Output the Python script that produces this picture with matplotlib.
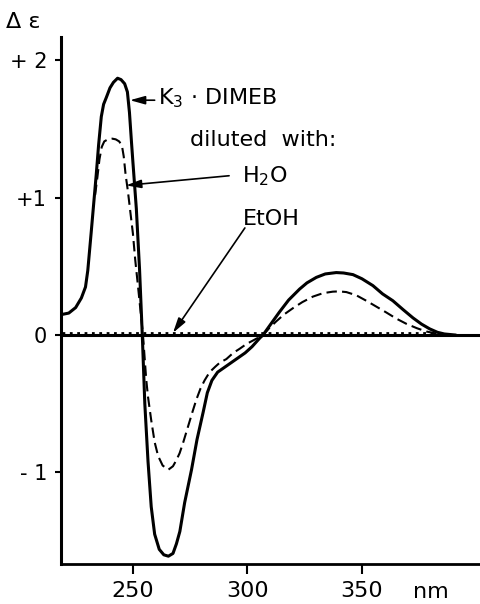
import matplotlib
matplotlib.use('Agg')
import matplotlib.pyplot as plt

# K3.DIMEB (solid)
nm_k3 = [219.0, 222.0, 225.0, 227.5, 229.3, 230.3, 231.8, 233.0, 234.0, 235.0,
         236.2, 237.2, 238.4, 240.0, 241.5, 243.3, 244.8, 246.4, 247.6, 248.5,
         249.4, 250.0, 251.5, 252.9, 254.1, 255.2, 256.6, 258.0, 259.5, 261.5,
         263.5, 265.5, 267.5, 269.0, 270.5, 272.6, 275.6, 278.0, 280.7, 282.5,
         284.5, 287.0, 290.0, 293.0, 296.0, 299.0, 302.0, 305.5, 306.8, 310.0,
         314.0, 318.0, 322.8, 326.0, 330.1, 334.0, 338.8, 342.0, 346.1, 350.0,
         354.8, 359.0, 363.5, 368.0, 372.3, 376.0, 379.6, 383.0, 386.0, 391.0]
de_k3 = [0.15, 0.16, 0.20, 0.27, 0.35, 0.47, 0.75, 0.98, 1.17, 1.38,
         1.59, 1.68, 1.73, 1.80, 1.84, 1.87, 1.86, 1.83, 1.77, 1.62,
         1.40, 1.26, 0.92, 0.48, 0.0, -0.50, -0.92, -1.25, -1.45, -1.56,
         -1.60, -1.61, -1.59, -1.52, -1.43, -1.22, -0.98, -0.76, -0.56, -0.42,
         -0.33, -0.27, -0.235, -0.20, -0.165, -0.13, -0.085, -0.02, 0.0, 0.075,
         0.168, 0.255, 0.335, 0.38, 0.42, 0.445, 0.455, 0.452, 0.44, 0.41,
         0.36, 0.30, 0.25, 0.185, 0.125, 0.08, 0.045, 0.02, 0.008, 0.0]

# diluted with H2O (dashed)
nm_h2o = [233.5, 234.5, 235.4, 236.4, 237.5, 239.1, 241.0, 242.5, 244.0, 245.2,
          246.0, 246.8, 247.8, 249.0, 250.0, 251.0, 252.2, 254.4, 255.8, 256.6,
          258.0, 259.5, 261.0, 263.0, 265.5, 267.5, 269.0, 270.4, 272.0, 274.0,
          276.0, 277.7, 279.5, 281.3, 283.5, 286.0, 288.0, 290.8, 293.8, 296.6,
          299.6, 302.4, 306.8, 309.5, 312.6, 316.0, 319.9, 324.0, 328.6, 333.0,
          337.3, 340.0, 343.2, 347.5, 351.9, 356.0, 360.6, 365.0, 369.4, 374.0,
          378.1, 384.0, 388.3]
de_h2o = [1.02, 1.15, 1.28, 1.37, 1.41, 1.425, 1.43, 1.425, 1.41, 1.38,
          1.30, 1.17, 1.05, 0.88, 0.74, 0.55, 0.36, 0.0, -0.32, -0.45,
          -0.62, -0.78, -0.88, -0.95, -0.98, -0.955, -0.91, -0.86, -0.78, -0.67,
          -0.56, -0.47, -0.39, -0.33, -0.27, -0.23, -0.20, -0.175, -0.13, -0.10,
          -0.065, -0.04, 0.0, 0.05, 0.10, 0.15, 0.196, 0.24, 0.28, 0.305,
          0.316, 0.318, 0.313, 0.29, 0.25, 0.21, 0.165, 0.12, 0.082, 0.05,
          0.026, 0.006, 0.0]

# diluted with EtOH (dotted, on the zero line)
nm_etoh = [219.0, 385.0]
de_etoh = [0.015, 0.015]

xticks = [250, 300, 350]
yticks = [2, 1, 0, -1]
ytick_labels = ['+ 2', '+1', '0', '- 1']

fig = plt.figure(figsize=(4.81, 6.04), dpi=100)
ax = fig.add_axes([0.1268, 0.0662, 0.8732, 0.8725])

ax.axhline(0, color='black', lw=2.2)
ax.plot(nm_etoh, de_etoh, color='black', lw=2, linestyle=':')
ax.plot(nm_h2o, de_h2o, color='black', lw=1.5, linestyle=(0, (5, 2.5)))
ax.plot(nm_k3, de_k3, color='black', lw=2.2, solid_capstyle='round')

ax.set_xlim(218.6, 402)
ax.set_ylim(-1.667, 2.17)

for s in ['top', 'right']:
    ax.spines[s].set_visible(False)
ax.spines['left'].set_linewidth(2.2)
ax.spines['bottom'].set_linewidth(2)

ax.set_xticks(xticks)
ax.set_xticklabels([str(t) for t in xticks], fontsize=16)
ax.set_yticks(yticks)
ax.set_yticklabels(ytick_labels, fontsize=15)
ax.tick_params(axis='x', length=7, width=1.5, pad=5)
ax.tick_params(axis='y', length=4, width=1.5, pad=6)

arrow = dict(arrowstyle='-|>,head_length=0.9,head_width=0.25', color='black',
             lw=1.2, shrinkA=0, shrinkB=0)
ax.annotate('', xy=(248.7, 1.71), xytext=(259.5, 1.71), arrowprops=arrow)
ax.annotate('', xy=(247.0, 1.09), xytext=(292.0, 1.16), arrowprops=arrow)
ax.annotate('', xy=(267.5, 0.016), xytext=(298.9, 0.78), arrowprops=arrow)

ax.text(260.9, 1.679, 'K$_3$ · DIMEB', fontsize=16, va='baseline', ha='left')
ax.text(274.9, 1.375, 'diluted  with:', fontsize=16, va='baseline', ha='left')
ax.text(297.6, 1.111, 'H$_2$O', fontsize=16, va='baseline', ha='left')
ax.text(298.0, 0.805, 'EtOH', fontsize=16, va='baseline', ha='left')

fig.text(0.048, 0.964, 'Δ ε', fontsize=16, ha='center', va='center')
fig.text(0.895, 0.02, 'nm', fontsize=16, ha='center', va='center')

fig.savefig('out.png', dpi=100)
